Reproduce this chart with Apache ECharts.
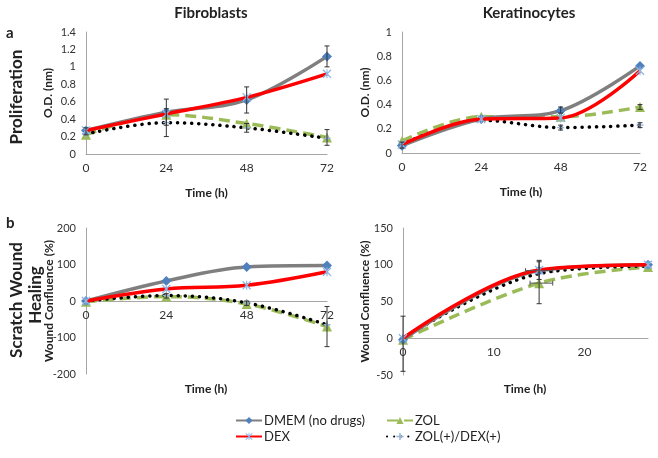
<!DOCTYPE html>
<html>
<head>
<meta charset="utf-8">
<script src="https://cdn.jsdelivr.net/npm/echarts@6/dist/echarts.min.js"></script>
<style>
  html, body { margin: 0; padding: 0; background: #fff; }
  #chart { width: 658px; height: 458px; }
</style>
</head>
<body>
<div id="chart"></div>
<script>
// time points
var timeFib = [0, 24, 48, 72];
var timeKer = [0, 24, 48, 72];
var timeWoundKer = [0, 15, 27];

// a - proliferation, fibroblasts (O.D.)
var fibDMEM = [0.27, 0.48, 0.62, 1.12];
var fibDEX = [0.27, 0.46, 0.65, 0.92];
var fibZOL = [0.22, 0.45, 0.35, 0.19];
var fibZD = [0.23, 0.36, 0.30, 0.18];
// a - proliferation, keratinocytes
var kerDMEM = [0.06, 0.28, 0.35, 0.72];
var kerDEX = [0.07, 0.28, 0.29, 0.68];
var kerZOL = [0.10, 0.30, 0.30, 0.38];
var kerZD = [0.07, 0.27, 0.21, 0.23];
// b - wound healing, fibroblasts (%)
var wfDMEM = [0, 55, 93, 97];
var wfDEX = [0, 33, 43, 80];
var wfZOL = [-2, 12, -8, -70];
var wfZD = [0, 15, -5, -65];
// b - wound healing, keratinocytes
var wkDMEM = [-2, 92, 100];
var wkDEX = [0, 93, 100];
var wkZOL = [-2, 75, 97];
var wkZD = [0, 88, 98];

// error bars [x, low, high]
var errFib = [[24, 0.33, 0.63], [24, 0.20, 0.52], [48, 0.47, 0.77], [48, 0.25, 0.35], [72, 1.00, 1.24], [72, 0.10, 0.28], [0, 0.22, 0.30]];
var errKer = [[48, 0.33, 0.38], [48, 0.19, 0.23], [72, 0.36, 0.40], [72, 0.21, 0.25], [0, 0.04, 0.09]];
var errWf = [[72, -125, -15], [48, -12, 0], [24, 8, 20]];
var errWk = [[0, -45, 30], [15, 47, 106], [15, 80, 104]];
// horizontal error bars [y, xlow, xhigh]
var errWkX = [[92, 13.5, 16.5], [75, 14, 16.5]];

var names = ['DMEM (no drugs)', 'DEX', 'ZOL', 'ZOL(+)/DEX(+)'];

var xPath = 'path://M0,1 L1,0 L5,4 L9,0 L10,1 L6,5 L10,9 L9,10 L5,6 L1,10 L0,9 L4,5 Z M4.4,0 L5.6,0 L5.6,10 L4.4,10 Z';
var plusPath = 'path://M4,0 L6,0 L6,4 L10,4 L10,6 L6,6 L6,10 L4,10 L4,6 L0,6 L0,4 L4,4 Z';

function pairs(xs, ys) {
    return xs.map(function (x, i) { return [x, ys[i]]; });
}

function lineSeries(idx, xs, d) {
    return [
        {
            name: names[0], type: 'line', xAxisIndex: idx, yAxisIndex: idx,
            smooth: 0.35, symbol: 'diamond', symbolSize: 10, z: 3,
            lineStyle: { color: '#7f7f7f', width: 3.5 },
            itemStyle: { color: '#4f81bd' },
            data: pairs(xs, d[0])
        },
        {
            name: names[1], type: 'line', xAxisIndex: idx, yAxisIndex: idx,
            smooth: 0.35, symbol: xPath, symbolSize: 9, z: 4,
            lineStyle: { color: '#ff0000', width: 3.5 },
            itemStyle: { color: '#8db4e2' },
            data: pairs(xs, d[1])
        },
        {
            name: names[2], type: 'line', xAxisIndex: idx, yAxisIndex: idx,
            smooth: 0.35, symbol: 'triangle', symbolSize: 10, z: 2,
            lineStyle: { color: '#9bbb59', width: 3.5, type: [11, 6] },
            itemStyle: { color: '#9bbb59' },
            data: pairs(xs, d[2])
        },
        {
            name: names[3], type: 'line', xAxisIndex: idx, yAxisIndex: idx,
            smooth: 0.35, symbol: plusPath, symbolSize: 7, z: 2,
            lineStyle: { color: '#000', width: 3.5, type: [0.1, 7], cap: 'round' },
            itemStyle: { color: '#95b3d7' },
            data: pairs(xs, d[3])
        }
    ];
}

function errSeries(idx, data) {
    return {
        type: 'custom', xAxisIndex: idx, yAxisIndex: idx, z: 5, silent: true,
        renderItem: function (params, api) {
            var p1 = api.coord([api.value(0), api.value(1)]);
            var p2 = api.coord([api.value(0), api.value(2)]);
            var st = { stroke: '#333', lineWidth: 1 };
            return {
                type: 'group',
                children: [
                    { type: 'line', shape: { x1: p1[0], y1: p1[1], x2: p2[0], y2: p2[1] }, style: st },
                    { type: 'line', shape: { x1: p1[0] - 2.5, y1: p1[1], x2: p1[0] + 2.5, y2: p1[1] }, style: st },
                    { type: 'line', shape: { x1: p2[0] - 2.5, y1: p2[1], x2: p2[0] + 2.5, y2: p2[1] }, style: st }
                ]
            };
        },
        data: data
    };
}

function errXSeries(idx, data) {
    return {
        type: 'custom', xAxisIndex: idx, yAxisIndex: idx, z: 5, silent: true,
        renderItem: function (params, api) {
            var p1 = api.coord([api.value(1), api.value(0)]);
            var p2 = api.coord([api.value(2), api.value(0)]);
            var st = { stroke: '#555', lineWidth: 1 };
            return {
                type: 'group',
                children: [
                    { type: 'line', shape: { x1: p1[0], y1: p1[1], x2: p2[0], y2: p2[1] }, style: st },
                    { type: 'line', shape: { x1: p1[0], y1: p1[1] - 2.5, x2: p1[0], y2: p1[1] + 2.5 }, style: st },
                    { type: 'line', shape: { x1: p2[0], y1: p2[1] - 2.5, x2: p2[0], y2: p2[1] + 2.5 }, style: st }
                ]
            };
        },
        data: data
    };
}

var labelStyle = { color: '#333', fontSize: 11, fontFamily: 'Lato' };
var nameStyle = { color: '#222', fontSize: 12, fontWeight: 'bold', fontFamily: 'Lato' };

// offset: pixels to lift the x axis from the grid bottom up to y = 0
function xAx(idx, max, interval, name, offset) {
    return {
        type: 'value', gridIndex: idx, min: 0, max: max, interval: interval,
        position: 'bottom', offset: offset,
        axisLine: { show: true, onZero: false, lineStyle: { color: '#a6a6a6', width: 1 } },
        axisTick: { show: false }, splitLine: { show: false },
        axisLabel: Object.assign({ margin: 8, fontSize: 12, showMaxLabel: max % interval === 0 }, { color: '#333', fontFamily: 'Lato' }),
        name: name, nameLocation: 'middle', nameGap: 33, nameTextStyle: nameStyle
    };
}
function yAx(idx, min, max, interval, name, gap) {
    return {
        type: 'value', gridIndex: idx, min: min, max: max, interval: interval,
        axisLine: { show: true, onZero: false, lineStyle: { color: '#a6a6a6', width: 1 } },
        axisTick: { show: false }, splitLine: { show: false },
        axisLabel: Object.assign({ margin: 10 }, labelStyle),
        name: name, nameLocation: 'middle', nameGap: gap, nameRotate: 90, nameTextStyle: nameStyle,
        nameMoveOverlap: false
    };
}

var rowLabel = { fontSize: 17, fontWeight: 'bold', fontFamily: 'Lato', fill: '#222', align: 'center', verticalAlign: 'middle' };

var chart = echarts.init(document.getElementById('chart'));
var option = {
    backgroundColor: '#fff',
    animation: false,
    title: [
        { text: 'Fibroblasts', left: 206, top: 1, textAlign: 'center',
          textStyle: { fontSize: 15, fontWeight: 'bold', fontFamily: 'Lato', color: '#222' } },
        { text: 'Keratinocytes', left: 524, top: 1, textAlign: 'center',
          textStyle: { fontSize: 15, fontWeight: 'bold', fontFamily: 'Lato', color: '#222' } }
    ],
    grid: [
        { left: 86, top: 32, width: 241, height: 122 },
        { left: 402, top: 32, width: 238, height: 121 },
        { left: 86, top: 228, width: 241, height: 146 },
        { left: 403, top: 228, width: 245, height: 147 }
    ],
    xAxis: [
        xAx(0, 72, 24, 'Time (h)', 0),
        xAx(1, 72, 24, 'Time (h)', 0),
        xAx(2, 72, 24, '', -73),
        xAx(3, 27, 10, '', -37)
    ],
    yAxis: [
        yAx(0, 0, 1.4, 0.2, 'O.D. (nm)', 32),
        yAx(1, 0, 1, 0.2, 'O.D. (nm)', 31),
        yAx(2, -200, 200, 100, 'Wound Confluence (%)', 31),
        yAx(3, -50, 150, 50, 'Wound Confluence (%)', 32)
    ],
    legend: [
        { data: [names[0], names[1]], orient: 'vertical', left: 230, top: 409, itemGap: 3,
          itemWidth: 26, itemHeight: 9, textStyle: { fontSize: 13, fontFamily: 'Lato', color: '#222', padding: [0, 0, 0, -3] } },
        { data: [names[2], names[3]], orient: 'vertical', left: 381, top: 409, itemGap: 3,
          itemWidth: 26, itemHeight: 9, textStyle: { fontSize: 13, fontFamily: 'Lato', color: '#222', padding: [0, 0, 0, -3] } }
    ],
    graphic: [
        { type: 'text', id: 'lblA', left: 6, top: 26, style: { text: 'a', fontSize: 15, fontWeight: 'bold', fontFamily: 'Lato', fill: '#222' } },
        { type: 'text', id: 'lblB', left: 6, top: 216, style: { text: 'b', fontSize: 15, fontWeight: 'bold', fontFamily: 'Lato', fill: '#222' } },
        { type: 'text', id: 'rowA', x: 17, y: 97, rotation: Math.PI / 2,
          style: Object.assign({ text: 'Proliferation' }, rowLabel) },
        { type: 'text', id: 'rowB1', x: 17, y: 300, rotation: Math.PI / 2,
          style: Object.assign({ text: 'Scratch Wound' }, rowLabel) },
        { type: 'text', id: 'rowB2', x: 36, y: 295, rotation: Math.PI / 2,
          style: Object.assign({ text: 'Healing' }, rowLabel) },
        { type: 'text', id: 'timeBL', x: 206, y: 389,
          style: { text: 'Time (h)', fontSize: 12, fontWeight: 'bold', fontFamily: 'Lato', fill: '#222', align: 'center', verticalAlign: 'middle' } },
        { type: 'text', id: 'timeBR', x: 525, y: 389,
          style: { text: 'Time (h)', fontSize: 12, fontWeight: 'bold', fontFamily: 'Lato', fill: '#222', align: 'center', verticalAlign: 'middle' } }
    ],
    series: [].concat(
        lineSeries(0, timeFib, [fibDMEM, fibDEX, fibZOL, fibZD]),
        lineSeries(1, timeKer, [kerDMEM, kerDEX, kerZOL, kerZD]),
        lineSeries(2, timeFib, [wfDMEM, wfDEX, wfZOL, wfZD]),
        lineSeries(3, timeWoundKer, [wkDMEM, wkDEX, wkZOL, wkZD]),
        [errSeries(0, errFib), errSeries(1, errKer), errSeries(2, errWf), errSeries(3, errWk), errXSeries(3, errWkX)]
    )
};
chart.setOption(option);
</script>
</body>
</html>
